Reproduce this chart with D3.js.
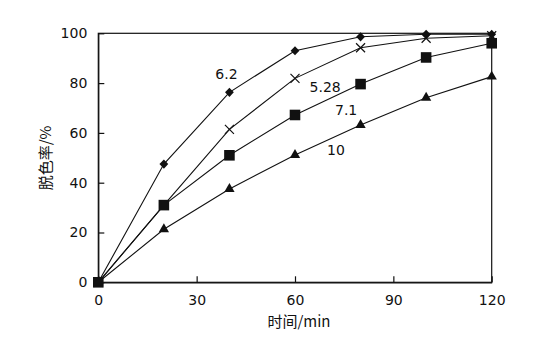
<!DOCTYPE html>
<html>
<head>
<meta charset="utf-8">
<script src="https://cdn.jsdelivr.net/npm/d3@7"></script>
<style>
  html, body { margin: 0; padding: 0; background: #fff; }
  svg { display: block; }
  text { font-family: "DejaVu Sans", sans-serif; fill: #111; }
  .cjk { font-family: "Noto Sans CJK SC", sans-serif; }
</style>
</head>
<body>
<svg id="chart" width="540" height="339"></svg>
<script>
// Decolorization rate over time at several pH values
const times = [0, 20, 40, 60, 80, 100, 120];
const rate62  = [0, 47.5, 76.3, 93.0, 98.6, 99.6, 99.6];
const rate528 = [0, 31.0, 61.4, 81.9, 94.2, 98.0, 99.0];
const rate71  = [0, 31.0, 51.0, 67.2, 79.6, 90.3, 96.0];
const rate10  = [0, 21.3, 37.5, 51.1, 63.2, 74.1, 82.6];
const seriesNames = ["6.2", "5.28", "7.1", "10"];
const seriesSymbols = ["diamond", "cross", "square", "triangle"];
const xTicks = [0, 30, 60, 90, 120];
const yTicks = [0, 20, 40, 60, 80, 100];

const series = [rate62, rate528, rate71, rate10].map((vals, i) => ({
  name: seriesNames[i], symbol: seriesSymbols[i], values: vals
}));

const svg = d3.select("#chart");
const W = 540, H = 339;
const margin = { left: 98.3, top: 33.3, right: W - 491.7, bottom: H - 282.3 };

const x = d3.scaleLinear().domain([0, 120]).range([margin.left, W - margin.right]);
const y = d3.scaleLinear().domain([0, 100]).range([H - margin.bottom, margin.top]);

// Frame
svg.append("rect")
  .attr("x", x(0)).attr("y", y(100))
  .attr("width", x(120) - x(0)).attr("height", y(0) - y(100))
  .attr("fill", "none").attr("stroke", "#111").attr("stroke-width", 1.2);

// Axes with inward ticks
const xAxis = svg.append("g")
  .attr("transform", `translate(0,${y(0)})`)
  .call(d3.axisBottom(x).tickValues(xTicks).tickSizeInner(-6).tickSizeOuter(0).tickPadding(13));
const yAxis = svg.append("g")
  .attr("transform", `translate(${x(0)},0)`)
  .call(d3.axisLeft(y).tickValues(yTicks).tickSizeInner(-6).tickSizeOuter(0).tickPadding(11));

[xAxis, yAxis].forEach(g => {
  g.select(".domain").attr("stroke", "#111").attr("stroke-width", 1.2);
  g.selectAll(".tick line").attr("stroke", "#111").attr("stroke-width", 1.2);
  g.selectAll(".tick text")
    .attr("font-family", "DejaVu Sans, sans-serif")
    .attr("font-size", 14).attr("fill", "#111");
});

// Lines
const line = d3.line().x((d, i) => x(times[i])).y(d => y(d));
const plot = svg.append("g");
series.forEach(s => {
  plot.append("path")
    .attr("d", line(s.values))
    .attr("fill", "none").attr("stroke", "#111").attr("stroke-width", 1.1);
});

// Markers
const markerPath = {
  diamond: r => `M0,${-4.6}L4.4,0L0,4.6L-4.4,0Z`,
  square: r => d3.symbol().type(d3.symbolSquare).size(112)(),
  triangle: r => d3.symbol().type(d3.symbolTriangle).size(46)()
};
series.forEach(s => {
  const g = plot.append("g");
  s.values.forEach((v, i) => {
    const cx = x(times[i]), cy = y(v);
    if (s.symbol === "cross") {
      const r = 4.5;
      g.append("path")
        .attr("d", `M${cx - r},${cy - r}L${cx + r},${cy + r}M${cx - r},${cy + r}L${cx + r},${cy - r}`)
        .attr("stroke", "#111").attr("stroke-width", 1.2).attr("fill", "none");
    } else {
      g.append("path")
        .attr("transform", `translate(${cx},${cy})`)
        .attr("d", markerPath[s.symbol]())
        .attr("fill", "#111");
    }
  });
});

// Series labels placed next to their curves
const labelPos = [
  { t: 39.1, v: 81.7 },
  { t: 69.2, v: 76.6 },
  { t: 75.6, v: 67.2 },
  { t: 72.5, v: 51.1 }
];
series.forEach((s, i) => {
  const p = labelPos[i];
  svg.append("text")
    .attr("x", x(p.t)).attr("y", y(p.v))
    .attr("text-anchor", "middle")
    .attr("font-size", 14)
    .text(s.name);
});

// Axis titles
svg.append("text")
  .attr("class", "cjk")
  .attr("x", 299).attr("y", 327)
  .attr("text-anchor", "middle")
  .attr("font-size", 15)
  .text("时间/min");

svg.append("text")
  .attr("class", "cjk")
  .attr("transform", `translate(51,158) rotate(-90)`)
  .attr("text-anchor", "middle")
  .attr("font-size", 15)
  .text("脱色率/%");
</script>
</body>
</html>
